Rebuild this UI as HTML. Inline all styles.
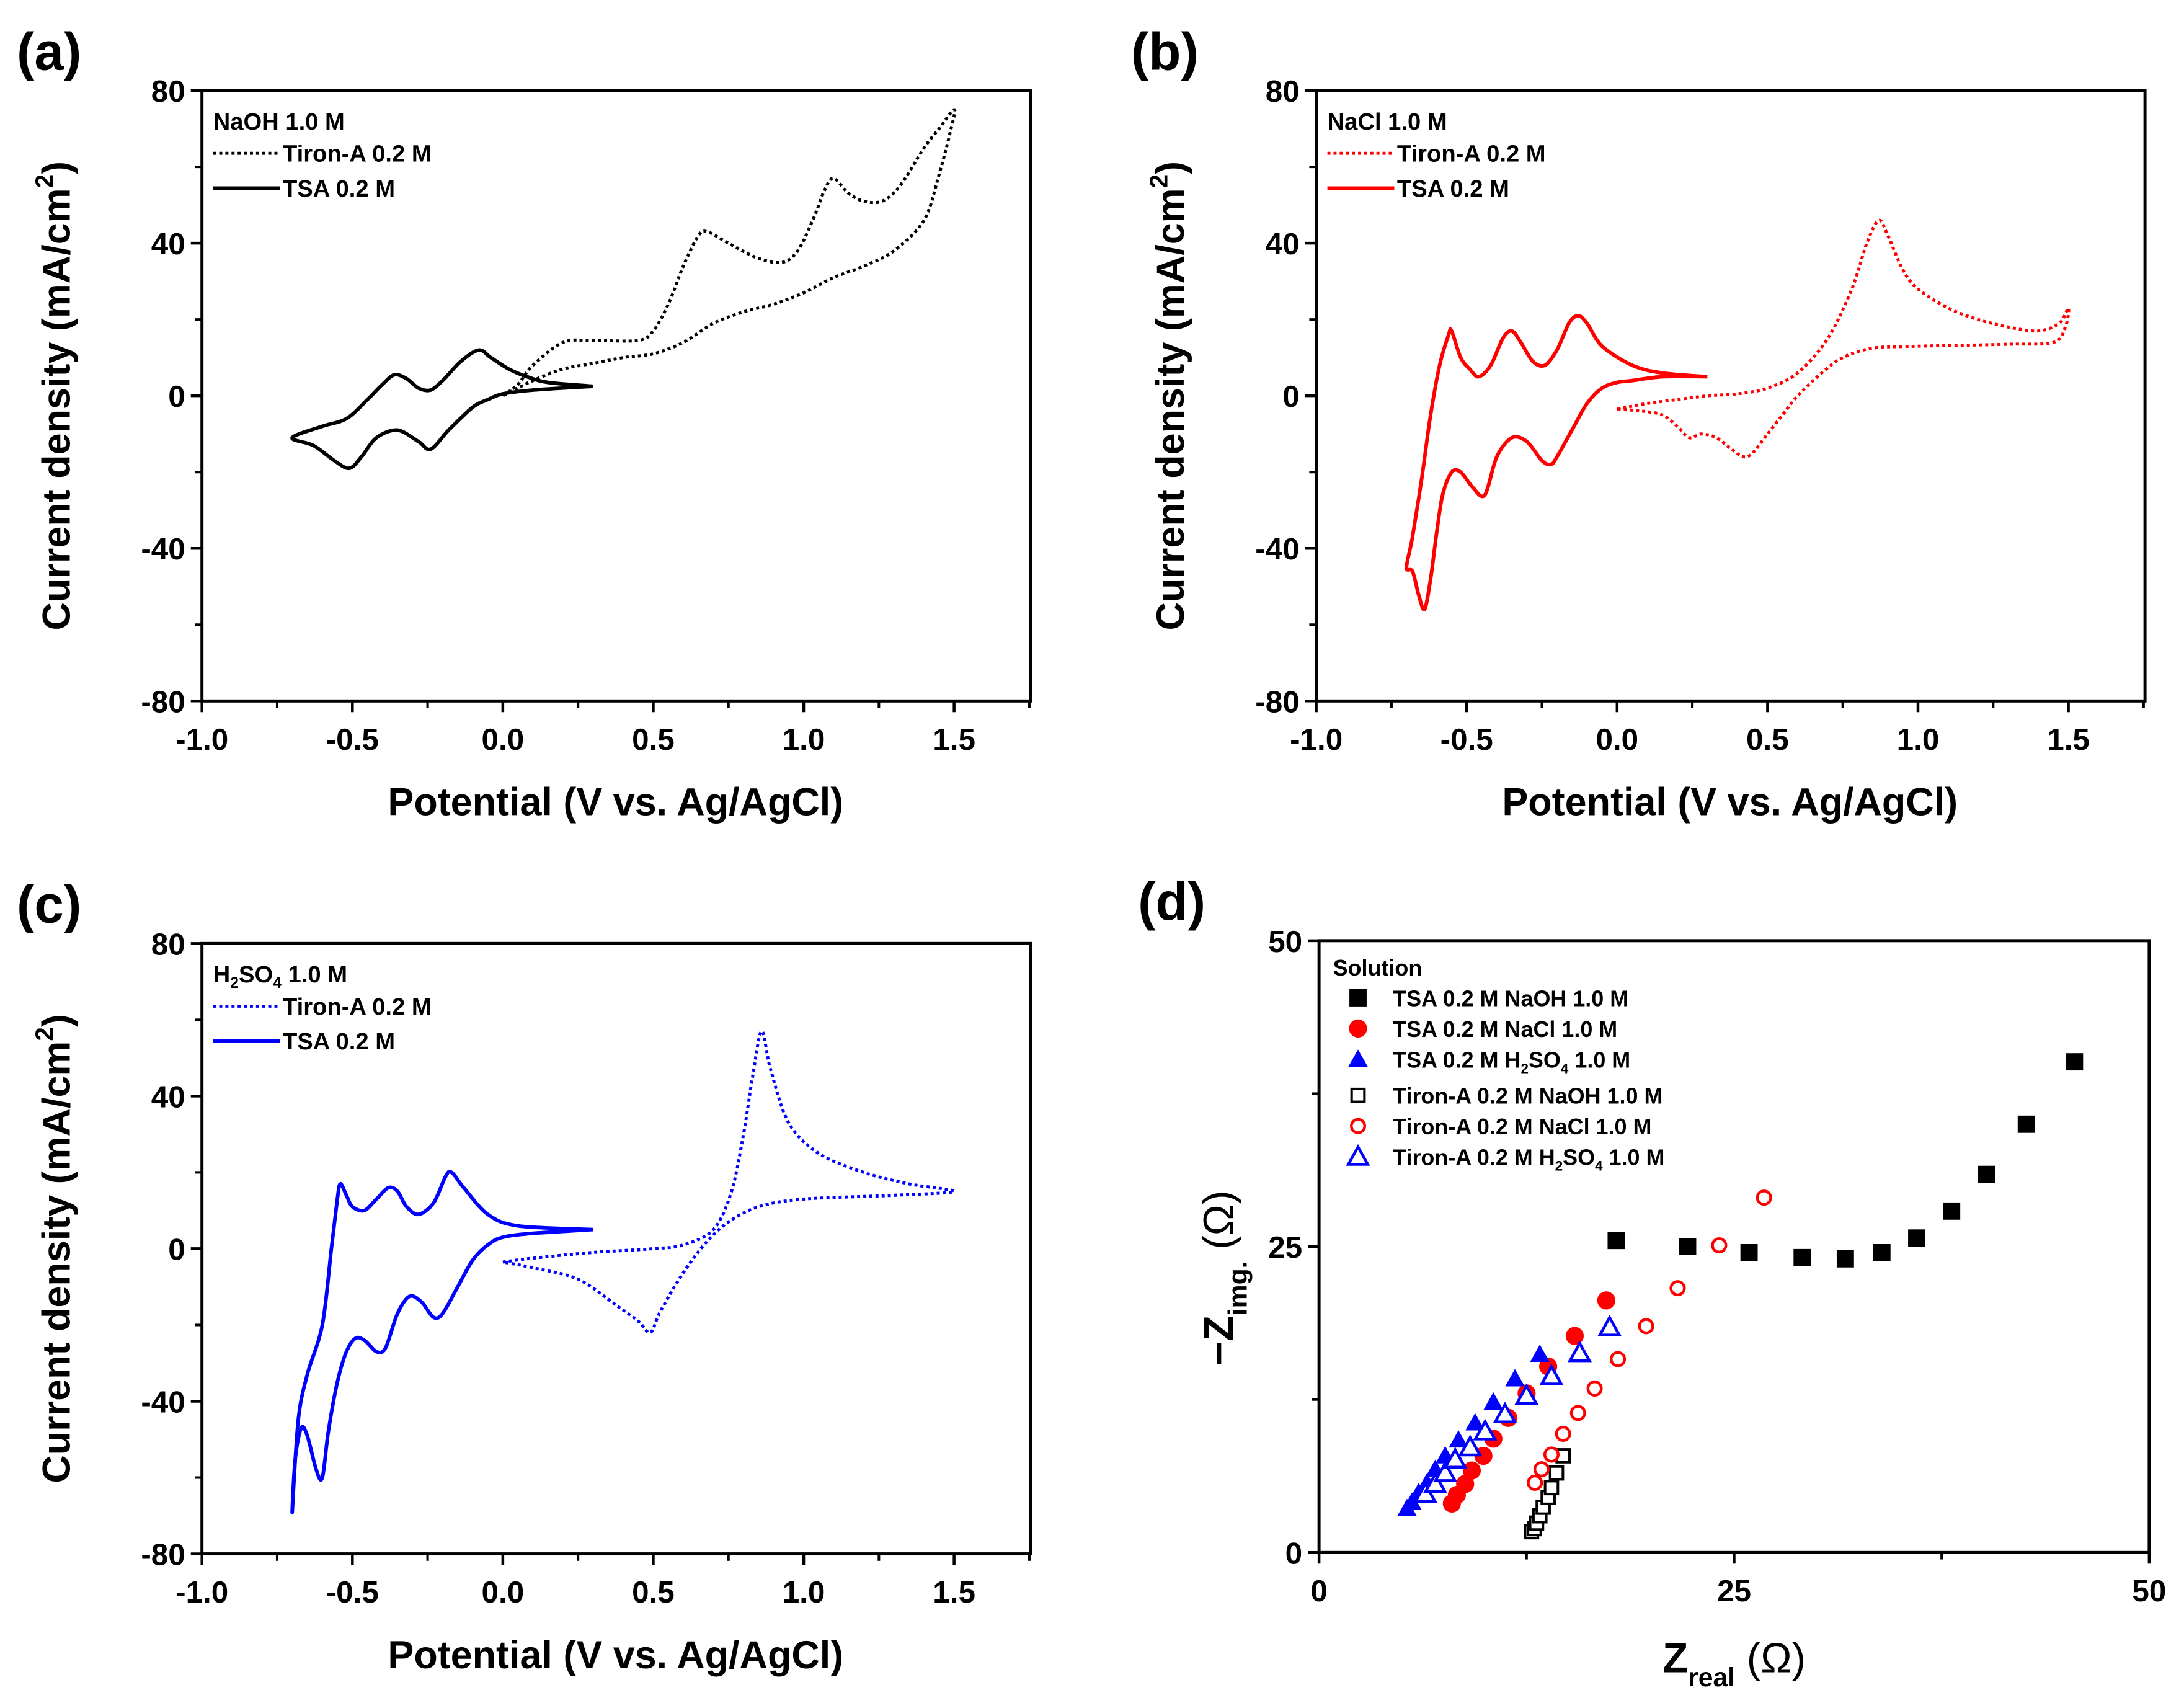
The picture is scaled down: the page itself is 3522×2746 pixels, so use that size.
<!DOCTYPE html>
<html><head><meta charset="utf-8"><style>
html,body{margin:0;padding:0;background:#fff}
svg{display:block}
text{font-family:"Liberation Sans",Arial,sans-serif;font-weight:bold}
</style></head><body>
<svg id="fig" xmlns="http://www.w3.org/2000/svg" width="3522" height="2746" viewBox="0 0 1568 1222" preserveAspectRatio="none">
<rect width="1568" height="1222" fill="#fff"/>
</svg>
<script>
// ---- data ----
const xTicksCV = [-1.0,-0.5,0.0,0.5,1.0,1.5];
const yTicksCV = [80,40,0,-40,-80];
const xTicksEIS = [0,25,50];
const yTicksEIS = [0,25,50];

const aTSA_E = [0.3,0.1,0.0,-0.05,-0.1,-0.18,-0.24,-0.28,-0.35,-0.42,-0.47,-0.51,-0.56,-0.63,-0.7,-0.6,-0.52,-0.45,-0.40,-0.36,-0.32,-0.28,-0.24,-0.2,-0.14,-0.08,-0.04,0.02,0.08,0.15,0.3];
const aTSA_I = [2.5,1.5,0.5,-1,-3,-9,-14,-12,-9,-11,-16,-19,-17,-13,-11,-8,-6,-1,3,5.5,4.5,2,1.5,4,9,12,10,7,5,3.5,2.5];
const aTIR_E = [0.0,0.05,0.1,0.2,0.3,0.45,0.5,0.55,0.6,0.65,0.68,0.75,0.85,0.93,0.98,1.03,1.07,1.1,1.15,1.2,1.26,1.32,1.4,1.45,1.5,1.49,1.45,1.4,1.3,1.2,1.1,1.0,0.9,0.8,0.7,0.6,0.5,0.4,0.3,0.2,0.1,0.0];
const aTIR_I = [0,3,8,14,14.5,14.5,17,24,34,42,43,40,36,35,38,46,54,57,53,51,51,55,65,70,75,70,58,46,38,34,31,27,24,22,19,14,11,10,8.5,7,4,0];

const bTSA_E = [0.3,0.15,0.05,0.0,-0.05,-0.1,-0.15,-0.2,-0.22,-0.25,-0.3,-0.35,-0.4,-0.44,-0.48,-0.52,-0.55,-0.58,-0.6,-0.62,-0.64,-0.66,-0.68,-0.7,-0.68,-0.65,-0.62,-0.59,-0.56,-0.55,-0.52,-0.49,-0.46,-0.42,-0.38,-0.35,-0.32,-0.28,-0.24,-0.2,-0.16,-0.13,-0.1,-0.05,0.05,0.15,0.3];
const bTSA_I = [5,5,4,3.5,2,-2,-9,-16,-18,-17,-12,-11,-16,-26,-24,-20,-20,-26,-36,-48,-56,-52,-46,-45,-37,-22,-5,8,16,17,10,7,5,8,15,17,14,9,8,12,19,21,19,13,8,6,5];
const bTIR_E = [0.0,0.1,0.2,0.3,0.4,0.5,0.6,0.7,0.78,0.83,0.87,0.9,0.95,1.0,1.1,1.2,1.3,1.4,1.47,1.5,1.49,1.45,1.3,1.0,0.85,0.75,0.68,0.6,0.55,0.5,0.45,0.42,0.38,0.33,0.28,0.24,0.2,0.15,0.08,0.0];
const bTIR_I = [-3.5,-2,-1,0,0.5,2,6,15,28,40,46,42,33,28,23,20,18,17,19,23,18,14,13.5,13,12.5,10,6,0,-5,-10,-15,-16,-14,-11,-10,-11,-8,-5,-4,-3.5];

const cTSA_E = [0.3,0.1,0,-0.05,-0.1,-0.15,-0.2,-0.23,-0.27,-0.31,-0.35,-0.39,-0.42,-0.46,-0.49,-0.52,-0.55,-0.58,-0.6,-0.62,-0.65,-0.67,-0.69,-0.7,-0.68,-0.65,-0.6,-0.57,-0.55,-0.54,-0.52,-0.5,-0.46,-0.42,-0.38,-0.35,-0.32,-0.28,-0.23,-0.19,-0.17,-0.13,-0.05,0.05,0.3];
const cTSA_I = [5,4,3,1,-3,-10,-17,-18,-14,-12.5,-17,-26,-27,-24,-23.5,-27,-35,-48,-60,-58,-49,-47,-55,-69,-45,-33,-20,0,13,17,14,11,10,13,16,15,11,9,12,19,20,16,9,6,5];
const cTIR_E = [0.0,0.1,0.3,0.5,0.6,0.7,0.76,0.8,0.83,0.86,0.89,0.95,1.05,1.2,1.35,1.5,1.3,1.0,0.85,0.75,0.68,0.62,0.57,0.52,0.49,0.45,0.38,0.25,0.1,0.0];
const cTIR_I = [-3.5,-2.5,-1,0,1,5,15,30,45,57,47,33,25,20,17,15,14,13,11,7,2,-4,-10,-17,-22,-19,-15,-8,-5,-3.5];

const dTSA_NaOH_x = [17.9,22.2,25.9,29.1,31.7,33.9,36.0,38.1,40.2,42.6,45.5];
const dTSA_NaOH_y = [25.5,25.0,24.5,24.1,24.0,24.5,25.7,27.9,30.9,35.0,40.1];
const dTSA_NaCl_x = [8.0,8.3,8.8,9.2,9.9,10.5,11.4,12.5,13.8,15.4,17.3];
const dTSA_NaCl_y = [4.0,4.7,5.6,6.7,7.9,9.3,11.0,13.0,15.2,17.7,20.6];
const dTSA_H2SO4_x = [5.3,5.6,6.0,6.5,7.0,7.6,8.4,9.4,10.5,11.8,13.3];
const dTSA_H2SO4_y = [3.6,4.1,4.9,5.7,6.8,7.9,9.2,10.6,12.3,14.2,16.2];
const dTIR_NaOH_x = [12.8,12.97,13.1,13.3,13.5,13.8,14.0,14.3,14.7];
const dTIR_NaOH_y = [1.7,1.95,2.4,3.0,3.7,4.5,5.3,6.5,7.9];
const dTIR_NaCl_x = [13.0,13.4,14.0,14.7,15.6,16.6,18.0,19.7,21.6,24.1,26.8];
const dTIR_NaCl_y = [5.7,6.8,8.0,9.7,11.4,13.4,15.8,18.5,21.6,25.1,29.0];
const dTIR_H2SO4_x = [6.4,7.0,7.6,8.2,9.1,10.0,11.2,12.5,14.0,15.7,17.5];
const dTIR_H2SO4_y = [4.8,5.6,6.5,7.6,8.6,9.9,11.3,12.8,14.4,16.3,18.4];

// ---- drawing ----
const NS = "http://www.w3.org/2000/svg";
const svg = document.getElementById('fig');
function mk(tag, attrs, parent, txt){
  const e = document.createElementNS(NS, tag);
  for (const k in attrs) e.setAttribute(k, attrs[k]);
  if (txt !== undefined) e.textContent = txt;
  (parent||svg).appendChild(e);
  return e;
}
function lin(d0,d1,r0,r1){ return v => r0 + (v-d0)*(r1-r0)/(d1-d0); }

function axes(g, L, R, T, B, xs, ys, xt, yt, fmtX, fmtY, xMinor, yMinor){
  const box = mk('rect',{x:L,y:T,width:R-L,height:B-T,fill:'none',stroke:'#000','stroke-width':2.2},g);
  
  
  xt.forEach((v,i)=>{
    const X = xs(v);
    mk('line',{x1:X,y1:B,x2:X,y2:B+8,stroke:'#000','stroke-width':2},g);
    const t = mk('text',{x:X,y:B+35,'font-size':22,'text-anchor':'middle'},g,fmtX(v));
    
    
  });
  xMinor.forEach(v=>{ const X=xs(v); mk('line',{x1:X,y1:B,x2:X,y2:B+5,stroke:'#000','stroke-width':1.8},g); });
  yt.forEach(v=>{
    const Y = ys(v);
    mk('line',{x1:L-8,y1:Y,x2:L,y2:Y,stroke:'#000','stroke-width':2},g);
    const t = mk('text',{x:L-12,y:Y+8,'font-size':22,'text-anchor':'end'},g,fmtY(v));
    
    
  });
  yMinor.forEach(v=>{ const Y=ys(v); mk('line',{x1:L-5,y1:Y,x2:L,y2:Y,stroke:'#000','stroke-width':1.8},g); });
}
function path(g, xs, ys, X, Y, color, dotted, name){
  const P = X.map((v,i)=>[xs(v), ys(Y[i])]);
  let d = 'M' + P[0][0].toFixed(1) + ',' + P[0][1].toFixed(1);
  for (let i=0;i<P.length-1;i++){
    const p0 = P[Math.max(0,i-1)], p1 = P[i], p2 = P[i+1], p3 = P[Math.min(P.length-1,i+2)];
    const t = 0.16;
    const c1 = [p1[0]+(p2[0]-p0[0])*t, p1[1]+(p2[1]-p0[1])*t];
    const c2 = [p2[0]-(p3[0]-p1[0])*t, p2[1]-(p3[1]-p1[1])*t];
    d += 'C'+c1[0].toFixed(1)+','+c1[1].toFixed(1)+' '+c2[0].toFixed(1)+','+c2[1].toFixed(1)+' '+p2[0].toFixed(1)+','+p2[1].toFixed(1);
  }
  const p = mk('path',{d:d,fill:'none',stroke:color,'stroke-width':dotted?2.2:2.6,'stroke-linejoin':'round','stroke-dasharray':dotted?'2.2,2.2':'none'},g);
  
  
}
const fmtCV = v => v.toFixed(1);
const fmtInt = v => String(v);

function cvPanel(id, L, T, color, label, solvent, sub, tsaE, tsaI, tirE, tirI){
  const R = L+595, B = T+438;
  const g = mk('g',{});
  
  
  const xs = lin(-1.0,1.5,L,L+540);
  const ys = lin(-80,80,B,T);
  const pl = mk('text',{x:L-133,y:T-15,'font-size':38},g,'('+id+')');
  
  
  axes(g,L,R,T,B,xs,ys,xTicksCV,yTicksCV,fmtCV,fmtInt,[-0.75,-0.25,0.25,0.75,1.25,1.75],[60,20,-20,-60]);
  path(g,xs,ys,tirE,tirI,color,true,'tiron-a-curve');
  path(g,xs,ys,tsaE,tsaI,color,false,'tsa-curve');
  const lg = mk('g',{},g);
  
  
  const t0 = mk('text',{x:L+8,y:T+28,'font-size':17},lg);
  if (sub){
    mk('tspan',{},t0,'H');
    mk('tspan',{'font-size':11,dy:4},t0,'2');
    mk('tspan',{dy:-4},t0,'SO');
    mk('tspan',{'font-size':11,dy:4},t0,'4');
    mk('tspan',{dy:-4},t0,' 1.0 M');
  } else t0.textContent = solvent;
  mk('line',{x1:L+8,y1:T+45,x2:L+56,y2:T+45,stroke:color,'stroke-width':2.2,'stroke-dasharray':'2.2,2.2'},lg);
  mk('text',{x:L+58,y:T+51,'font-size':17},lg,'Tiron-A 0.2 M');
  mk('line',{x1:L+8,y1:T+70,x2:L+56,y2:T+70,stroke:color,'stroke-width':2.6},lg);
  mk('text',{x:L+58,y:T+76,'font-size':17},lg,'TSA 0.2 M');
  const xt = mk('text',{x:L+297,y:B+82,'font-size':28,'text-anchor':'middle'},g,'Potential (V vs. Ag/AgCl)');
  
  
  const yt = mk('text',{x:0,y:0,'font-size':28,'text-anchor':'middle',transform:'translate('+(L-95)+','+((T+B)/2)+') rotate(-90)'},g);
  
  
  mk('tspan',{},yt,'Current density (mA/cm');
  mk('tspan',{'font-size':18,dy:-12},yt,'2');
  mk('tspan',{dy:12},yt,')');
}
cvPanel('a',145,65,'#000','','NaOH 1.0 M',false,aTSA_E,aTSA_I,aTIR_E,aTIR_I);
cvPanel('b',945,65,'#ff0000','','NaCl 1.0 M',false,bTSA_E,bTSA_I,bTIR_E,bTIR_I);
cvPanel('c',145,677,'#0000ff','','',true,cTSA_E,cTSA_I,cTIR_E,cTIR_I);

// ---- panel d ----
(function(){
  const L=947,R=1543,T=675,B=1114;
  const g = mk('g',{});
  
  
  const xs = lin(0,50,L,R), ys = lin(0,50,B,T);
  const pl = mk('text',{x:L-130,y:T-15,'font-size':38},g,'(d)');
  
  
  axes(g,L,R,T,B,xs,ys,xTicksEIS,yTicksEIS,fmtInt,fmtInt,[12.5,37.5],[12.5,37.5]);
  function marker(parent,type,fill,color,cx,cy){
    if (type==='sq'){ const s = fill?6.2:4.6; return mk('rect',{x:cx-s,y:cy-s,width:2*s,height:2*s,fill:fill?color:'#fff',stroke:color,'stroke-width':fill?0:1.8},parent); }
    if (type==='ci') return mk('circle',{cx:cx,cy:cy,r:fill?6.5:4.8,fill:fill?color:'#fff',stroke:color,'stroke-width':fill?0:2},parent);
    return mk('polygon',{points:(cx)+','+(cy-7)+' '+(cx-7)+','+(cy+5.5)+' '+(cx+7)+','+(cy+5.5),fill:fill?color:'#fff',stroke:color,'stroke-width':fill?0:2},parent);
  }
  const series = [
    ['tsa-naoh',dTSA_NaOH_x,dTSA_NaOH_y,'sq',true,'#000'],
    ['tsa-nacl',dTSA_NaCl_x,dTSA_NaCl_y,'ci',true,'#ff0000'],
    ['tsa-h2so4',dTSA_H2SO4_x,dTSA_H2SO4_y,'tr',true,'#0000ff'],
    ['tiron-naoh',dTIR_NaOH_x,dTIR_NaOH_y,'sq',false,'#000'],
    ['tiron-nacl',dTIR_NaCl_x,dTIR_NaCl_y,'ci',false,'#ff0000'],
    ['tiron-h2so4',dTIR_H2SO4_x,dTIR_H2SO4_y,'tr',false,'#0000ff']
  ];
  series.forEach(s=>{
    const sg = mk('g',{},g);
    
    
    s[1].forEach((v,i)=>{
      const m = marker(sg,s[3],s[4],s[5],xs(v),ys(s[2][i]));
      
      
    });
  });
  const lg = mk('g',{},g);
  
  
  mk('text',{x:957,y:700,'font-size':16},lg,'Solution');
  const ly=[716,738,760,786,808,830];
  const labels=['TSA 0.2 M NaOH 1.0 M','TSA 0.2 M NaCl 1.0 M','TSA 0.2 M ','Tiron-A 0.2 M NaOH 1.0 M','Tiron-A 0.2 M NaCl 1.0 M','Tiron-A 0.2 M '];
  series.forEach((s,i)=>{
    marker(lg,s[3],s[4],s[5],975,ly[i]);
    const t = mk('text',{x:1000,y:ly[i]+6,'font-size':16},lg,labels[i]);
    if (s[0].indexOf('h2so4')>=0){
      mk('tspan',{},t,'H');
      mk('tspan',{'font-size':10,dy:4},t,'2');
      mk('tspan',{dy:-4},t,'SO');
      mk('tspan',{'font-size':10,dy:4},t,'4');
      mk('tspan',{dy:-4},t,' 1.0 M');
    }
  });
  const xt = mk('text',{x:1245,y:1200,'font-size':30,'text-anchor':'middle'},g);
  
  
  mk('tspan',{},xt,'Z');
  mk('tspan',{'font-size':19,dy:10},xt,'real');
  mk('tspan',{dy:-10,'font-weight':'normal'},xt,' (Ω)');
  const yt = mk('text',{x:0,y:0,'font-size':30,'text-anchor':'middle',transform:'translate(885,917) rotate(-90)'},g);
  
  
  mk('tspan',{},yt,'−Z');
  mk('tspan',{'font-size':19,dy:10},yt,'img.');
  mk('tspan',{dy:-10,'font-weight':'normal'},yt,' (Ω)');
})();
</script>
</body></html>
